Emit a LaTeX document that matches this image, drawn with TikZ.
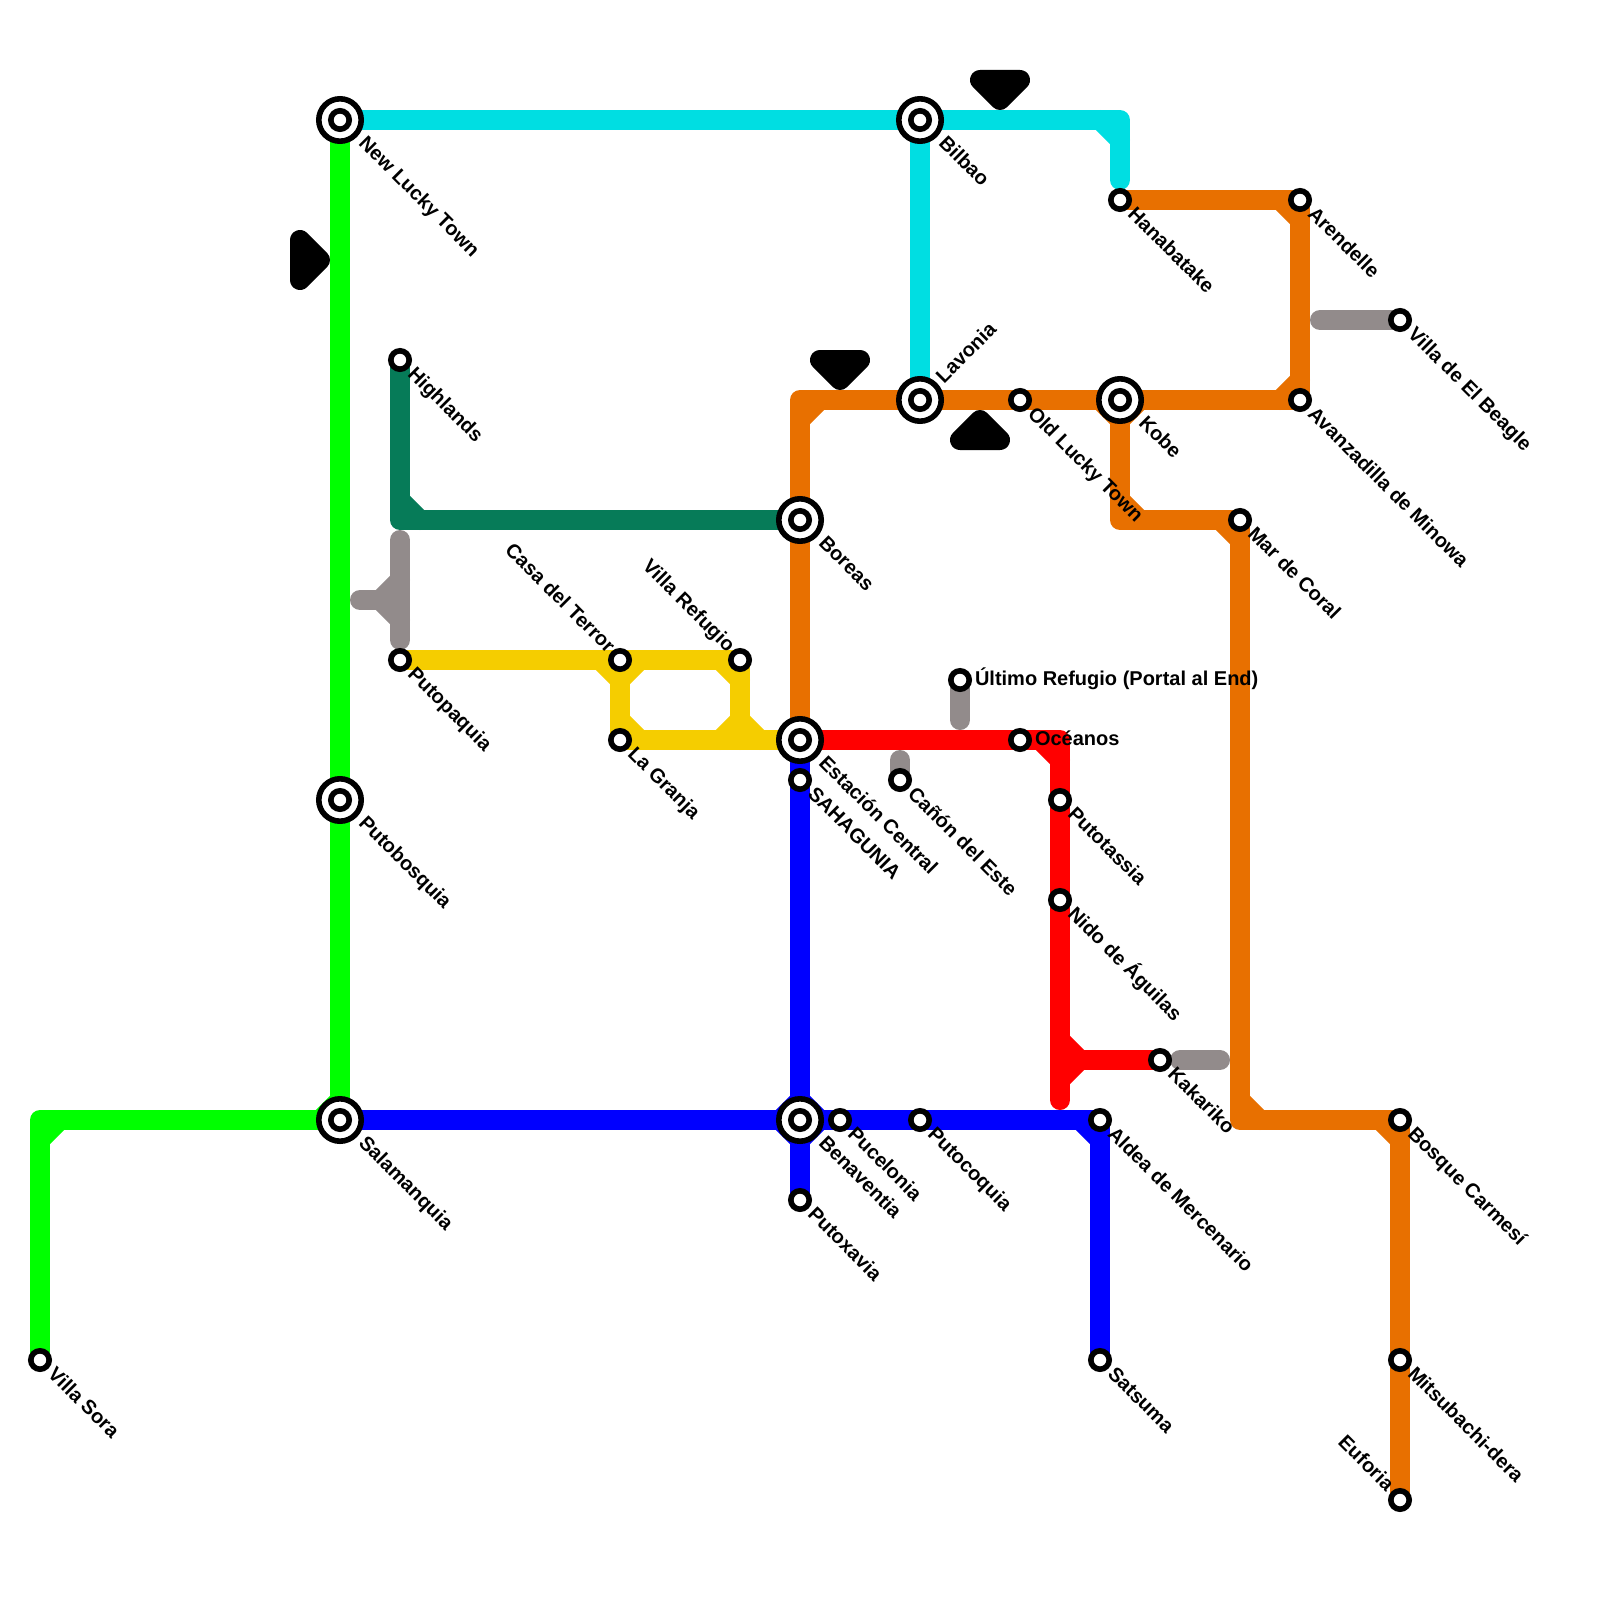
\documentclass[tikz,border=0pt]{standalone}
\usepackage{fontspec}
\setmainfont{Liberation Sans}
\usetikzlibrary{backgrounds}
\definecolor{cgreen}{RGB}{0,255,0}
\definecolor{ccyan}{RGB}{0,222,226}
\definecolor{cteal}{RGB}{6,123,88}
\definecolor{corange}{RGB}{232,112,0}
\definecolor{cyellow}{RGB}{245,205,0}
\definecolor{cred}{RGB}{255,0,0}
\definecolor{cblue}{RGB}{0,0,255}
\definecolor{cgray}{RGB}{146,139,139}
\tikzset{
 x=1pt,y=-1pt,
 metro/.style={line width=20pt,line cap=round,line join=round},
 lg/.style={metro,draw=cgreen}, lc/.style={metro,draw=ccyan}, lt/.style={metro,draw=cteal},
 lo/.style={metro,draw=corange}, ly/.style={metro,draw=cyellow}, lr/.style={metro,draw=cred},
 lb/.style={metro,draw=cblue}, lx/.style={metro,draw=cgray},
 arrowmark/.style={line width=20pt,line join=round,draw=black,fill=black},
 stn/.style={circle,draw=black,fill=white,line width=5.6pt,inner sep=0pt,outer sep=0pt,minimum size=18.4pt},
 hub/.style={circle,draw=black,fill=white,line width=5.6pt,inner sep=0pt,outer sep=0pt,minimum size=42.4pt},
 hubcore/.style={circle,draw=black,fill=white,line width=5.6pt,inner sep=0pt,outer sep=0pt,minimum size=18.4pt},
 lbl/.style={inner sep=0pt,outer sep=0pt,text height=14.3pt,text depth=0pt,font=\fontsize{20}{22}\selectfont\bfseries,text=black},
 dr/.style={lbl,rotate=-45,anchor=west},
 ur/.style={lbl,rotate=45,anchor=west},
 ul/.style={lbl,rotate=-45,anchor=east},
 rr/.style={lbl,anchor=west},
}
\begin{document}
\begin{tikzpicture}
\useasboundingbox (0,0) rectangle (1600,1600);
% stations
\node[stn] (villasora) at (40,1360) {};
\node[hub] (newlucky) at (340,120) {}; \node[hubcore] at (newlucky.center) {};
\node[hub] (bilbao) at (920,120) {}; \node[hubcore] at (bilbao.center) {};
\node[hub] (lavonia) at (920,400) {}; \node[hubcore] at (lavonia.center) {};
\node[hub] (kobe) at (1120,400) {}; \node[hubcore] at (kobe.center) {};
\node[hub] (boreas) at (800,520) {}; \node[hubcore] at (boreas.center) {};
\node[hub] (central) at (800,740) {}; \node[hubcore] at (central.center) {};
\node[hub] (putobosquia) at (340,800) {}; \node[hubcore] at (putobosquia.center) {};
\node[hub] (salamanquia) at (340,1120) {}; \node[hubcore] at (salamanquia.center) {};
\node[hub] (benaventia) at (800,1120) {}; \node[hubcore] at (benaventia.center) {};
\node[stn] (oldlucky) at (1020,400) {};
\node[stn] (hanabatake) at (1120,200) {};
\node[stn] (arendelle) at (1300,200) {};
\node[stn] (avanzadilla) at (1300,400) {};
\node[stn] (beagle) at (1400,320) {};
\node[stn] (mardecoral) at (1240,520) {};
\node[stn] (highlands) at (400,360) {};
\node[stn] (putopaquia) at (400,660) {};
\node[stn] (casaterror) at (620,660) {};
\node[stn] (villarefugio) at (740,660) {};
\node[stn] (lagranja) at (620,740) {};
\node[stn] (sahagunia) at (800,780) {};
\node[stn] (ultimo) at (960,680) {};
\node[stn] (oceanos) at (1020,740) {};
\node[stn] (canon) at (900,780) {};
\node[stn] (putotassia) at (1060,800) {};
\node[stn] (nido) at (1060,900) {};
\node[stn] (kakariko) at (1160,1060) {};
\node[stn] (aldea) at (1100,1120) {};
\node[stn] (satsuma) at (1100,1360) {};
\node[stn] (pucelonia) at (840,1120) {};
\node[stn] (putocoquia) at (920,1120) {};
\node[stn] (putoxavia) at (800,1200) {};
\node[stn] (bosque) at (1400,1120) {};
\node[stn] (mitsubachi) at (1400,1360) {};
\node[stn] (euforia) at (1400,1500) {};
% corners and free ends
\coordinate (gA) at (40,1120);
\coordinate (cA) at (1120,120);
\coordinate (cB) at (1120,180);
\coordinate (oA) at (800,400);
\coordinate (oB) at (1120,520);
\coordinate (oC) at (1240,1120);
\coordinate (tA) at (400,520);
\coordinate (xA) at (400,540);
\coordinate (xB) at (400,640);
\coordinate (xC) at (360,600);
\coordinate (xD) at (380,600);
\coordinate (xE) at (1320,320);
\coordinate (xF) at (960,720);
\coordinate (xG) at (900,760);
\coordinate (xH) at (1180,1060);
\coordinate (xI) at (1220,1060);
\coordinate (rA) at (1060,740);
\coordinate (rB) at (1060,1100);
\coordinate (rC) at (1060,1060);
\coordinate (yA) at (740,740);
\begin{scope}[on background layer]
% green
\draw[lg] (villasora.center) -- (gA) -- (salamanquia.center);
\draw[lg] (gA) ++(0,20) -- ++(20,-20);
\draw[lg] (salamanquia.center) -- (newlucky.center);
\draw[lg] (salamanquia.center) ++(-20,0) -- ++(20,-20);
% cyan
\draw[lc] (newlucky.center) -- (bilbao.center) -- (cA) -- (cB);
\draw[lc] (cA) ++(-20,0) -- ++(20,20);
\draw[lc] (bilbao.center) -- (lavonia.center);
% teal
\draw[lt] (highlands.center) -- (tA) -- (boreas.center);
\draw[lt] (tA) ++(0,-20) -- ++(20,20);
% orange
\draw[lo] (central.center) -- (oA) -- (avanzadilla.center) -- (arendelle.center) -- (hanabatake.center);
\draw[lo] (oA) ++(0,20) -- ++(20,-20);
\draw[lo] (avanzadilla.center) ++(0,-20) -- ++(-20,20);
\draw[lo] (arendelle.center) ++(-20,0) -- ++(20,20);
\draw[lo] (kobe.center) -- (oB) -- (mardecoral.center) -- (oC) -- (bosque.center) -- (euforia.center);
\draw[lo] (kobe.center) ++(-20,0) -- ++(20,20) -- ++(20,-20);
\draw[lo] (oB) ++(0,-20) -- ++(20,20);
\draw[lo] (mardecoral.center) ++(-20,0) -- ++(20,20);
\draw[lo] (oC) ++(0,-20) -- ++(20,20);
\draw[lo] (bosque.center) ++(-20,0) -- ++(20,20);
% yellow
\draw[ly] (putopaquia.center) -- (villarefugio.center) -- (yA);
\draw[ly] (casaterror.center) -- (lagranja.center) -- (central.center);
\draw[ly] (casaterror.center) ++(-20,0) -- ++(20,20) -- ++(20,-20);
\draw[ly] (lagranja.center) ++(0,-20) -- ++(20,20);
\draw[ly] (villarefugio.center) ++(-20,0) -- ++(20,20);
\draw[ly] (yA) ++(-20,0) -- ++(20,-20) -- ++(20,20);
% blue
\draw[lb] (salamanquia.center) -- (aldea.center) -- (satsuma.center);
\draw[lb] (aldea.center) ++(-20,0) -- ++(20,20);
\draw[lb] (central.center) -- (putoxavia.center);
\draw[lb] (benaventia.center) ++(-20,0) -- ++(20,-20) -- ++(20,20) -- ++(-20,20) -- cycle;
% red
\draw[lr] (central.center) -- (rA) -- (rB);
\draw[lr] (rA) ++(-20,0) -- ++(20,20);
\draw[lr] (rC) -- (kakariko.center);
\draw[lr] (rC) ++(0,-20) -- ++(20,20) -- ++(-20,20);
% gray
\draw[lx] (xA) -- (xB);
\draw[lx] (xC) -- (xD);
\draw[lx] (xD) -- ++(20,-20);
\draw[lx] (xD) -- ++(20,20);
\draw[lx] (xE) -- (beagle.center);
\draw[lx] (ultimo.center) -- (xF);
\draw[lx] (xG) -- (canon.center);
\draw[lx] (xH) -- (xI);
% direction marks
\coordinate (mA) at (300,240);
\draw[arrowmark] (mA) -- ++(0,40) -- ++(20,-20) -- cycle;
\coordinate (mB) at (820,360);
\draw[arrowmark] (mB) -- ++(40,0) -- ++(-20,20) -- cycle;
\coordinate (mC) at (960,440);
\draw[arrowmark] (mC) -- ++(40,0) -- ++(-20,-20) -- cycle;
\coordinate (mD) at (980,80);
\draw[arrowmark] (mD) -- ++(40,0) -- ++(-20,20) -- cycle;
\end{scope}
% labels
\node[dr] (l1) at ([shift={(23,19)}]newlucky.center) {New Lucky Town};
\node[dr] (l2) at ([shift={(23,19)}]bilbao.center) {Bilbao};
\node[ur] (l3) at ([shift={(19,-21)}]lavonia.center) {Lavonia};
\node[dr] (l4) at ([shift={(23,19)}]kobe.center) {Kobe};
\node[dr] (l5) at ([shift={(23,19)}]boreas.center) {Boreas};
\node[dr] (l6) at ([shift={(23,19)}]central.center) {Estación Central};
\node[dr] (l7) at ([shift={(23,19)}]putobosquia.center) {Putobosquia};
\node[dr] (l8) at ([shift={(23,19)}]salamanquia.center) {Salamanquia};
\node[dr] (l9) at ([shift={(23,19)}]benaventia.center) {Benaventia};
\node[dr] (l10) at ([shift={(12,10)}]villasora.center) {Villa Sora};
\node[dr] (l11) at ([shift={(12,10)}]oldlucky.center) {Old Lucky Town};
\node[dr] (l12) at ([shift={(12,10)}]hanabatake.center) {Hanabatake};
\node[dr] (l13) at ([shift={(12,10)}]arendelle.center) {Arendelle};
\node[dr] (l14) at ([shift={(12,10)}]avanzadilla.center) {Avanzadilla de Minowa};
\node[dr] (l15) at ([shift={(12,10)}]beagle.center) {Villa de El Beagle};
\node[dr] (l16) at ([shift={(12,10)}]mardecoral.center) {Mar de Coral};
\node[dr] (l17) at ([shift={(12,10)}]highlands.center) {Highlands};
\node[dr] (l18) at ([shift={(12,10)}]putopaquia.center) {Putopaquia};
\node[ul] (l19) at ([shift={(-8,-11)}]casaterror.center) {Casa del Terror};
\node[ul] (l20) at ([shift={(-8,-12)}]villarefugio.center) {Villa Refugio};
\node[dr] (l21) at ([shift={(12,10)}]lagranja.center) {La Granja};
\node[dr] (l22) at ([shift={(12,10)}]sahagunia.center) {SAHAGUNIA};
\node[rr] (l23) at ([shift={(15,-2)}]ultimo.center) {Último Refugio (Portal al End)};
\node[rr] (l24) at ([shift={(15,-2)}]oceanos.center) {Océanos};
\node[dr] (l25) at ([shift={(12,10)}]canon.center) {Cañón del Este};
\node[dr] (l26) at ([shift={(12,10)}]putotassia.center) {Putotassia};
\node[dr] (l27) at ([shift={(12,10)}]nido.center) {Nido de Águilas};
\node[dr] (l28) at ([shift={(12,10)}]kakariko.center) {Kakariko};
\node[dr] (l29) at ([shift={(12,10)}]aldea.center) {Aldea de Mercenario};
\node[dr] (l30) at ([shift={(12,10)}]satsuma.center) {Satsuma};
\node[dr] (l31) at ([shift={(12,10)}]pucelonia.center) {Pucelonia};
\node[dr] (l32) at ([shift={(12,10)}]putocoquia.center) {Putocoquia};
\node[dr] (l33) at ([shift={(12,10)}]putoxavia.center) {Putoxavia};
\node[dr] (l34) at ([shift={(12,10)}]bosque.center) {Bosque Carmesí};
\node[dr] (l35) at ([shift={(12,10)}]mitsubachi.center) {Mitsubachi-dera};
\node[ul] (l36) at ([shift={(-9,-13)}]euforia.center) {Euforia};
\end{tikzpicture}
\end{document}
